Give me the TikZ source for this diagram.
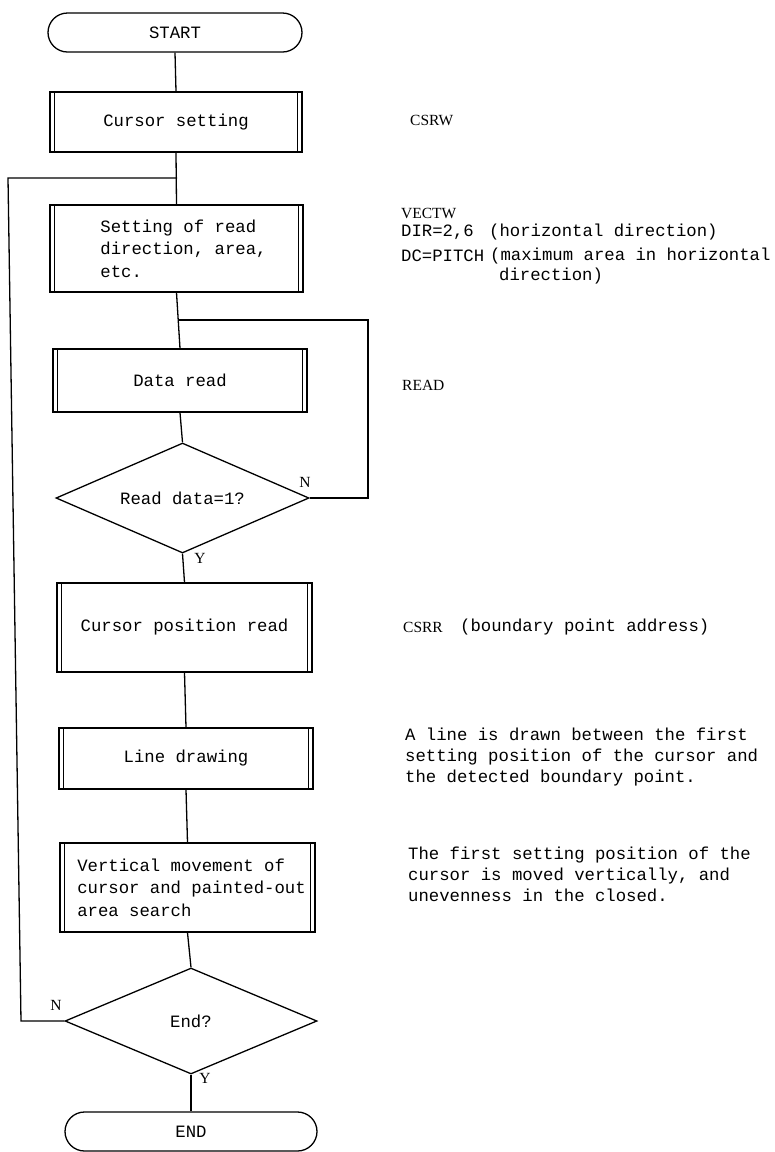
\documentclass[tikz,border=0pt]{standalone}
\usepackage{fontspec}
\newfontfamily\monof{Liberation Mono}
\newfontfamily\tmsf{Liberation Serif}
\usetikzlibrary{shapes.geometric}
\tikzset{
  ln/.style={line width=1.3pt},
  term/.style={draw, line width=1.3pt, rectangle, rounded corners=19.5pt, minimum width=254pt, minimum height=39pt, inner sep=0pt},
  proc/.style={draw, line width=1.3pt, rectangle, inner sep=0pt, align=left,
    path picture={
      \draw[line width=1pt] ([xshift=4.5pt]path picture bounding box.north west) -- ([xshift=4.5pt]path picture bounding box.south west);
      \draw[line width=1pt] ([xshift=-4.5pt]path picture bounding box.north east) -- ([xshift=-4.5pt]path picture bounding box.south east);
    }},
  dec/.style={draw, line width=1.3pt, diamond, inner sep=0pt, aspect=2.3},
  note/.style={anchor=west, inner sep=0pt, align=left, font=\monof\fontsize{17.3}{21}\selectfont},
  snote/.style={anchor=west, inner sep=0pt, font=\tmsf\fontsize{15.5}{17}\selectfont},
  yn/.style={inner sep=0pt, font=\tmsf\fontsize{15.5}{17}\selectfont},
}
\begin{document}
\begin{tikzpicture}[x=1pt, y=-1pt, font=\monof\fontsize{17.3}{22.5}\selectfont]
\useasboundingbox[fill=white] (0,0) rectangle (775,1152);

% flow nodes
\node[term] (start) at (175,32.5) {START};
\node[proc, minimum width=252pt, minimum height=60pt] (cs) at (176,122) {Cursor setting};
\node[proc, minimum width=253pt, minimum height=87pt] (set) at (176.5,248.5) {\hspace*{14pt}Setting of read\\\hspace*{14pt}direction, area,\\\hspace*{14pt}etc.};
\node[proc, minimum width=254pt, minimum height=63pt] (dr) at (180,380.5) {Data read};
\node[dec, minimum width=253pt, minimum height=110pt] (rd) at (182.5,498) {Read data=1?};
\node[proc, minimum width=255pt, minimum height=89pt] (cpr) at (184.5,627.5) {Cursor position read};
\node[proc, minimum width=254pt, minimum height=61pt] (ld) at (186,758.5) {Line drawing};
\node[proc, minimum width=255pt, minimum height=89pt] (vm) at (187.5,887.5) {\hspace*{8pt}Vertical movement of\\\hspace*{8pt}cursor and painted-out\\\hspace*{8pt}area search};
\node[dec, minimum width=252pt, minimum height=106pt] (ed) at (191,1021) {End?};
\node[term, minimum width=252pt] (endn) at (191,1131.5) {END};

% branch labels
\node[yn] (n1) at (305,482) {N};
\node[yn] (y1) at (200,558) {Y};
\node[yn] (n2) at (56,1005) {N};
\node[yn] (y2) at (205,1078) {Y};

% annotations
\node[snote] (csrw) at (410,120) {CSRW};
\node[snote] (vectw) at (401,213) {VECTW};
\node[note] (dir) at (401,232) {DIR=2,6};
\node[note] (dc) at (401,256) {DC=PITCH};
\node[note] (dirn) at (489,232) {(horizontal direction)};
\node[note] (dcn) at (490,256) {(maximum area in horizontal};
\node[note] (dcn2) at (499,276) {direction)};
\node[snote] (readn) at (402,385) {READ};
\node[snote] (csrr) at (403,627) {CSRR};
\node[note] (csrrn) at (460,627) {(boundary point address)};
\node[note] (ldn) at (405,757.5) {A line is drawn between the first\\setting position of the cursor and\\the detected boundary point.};
\node[note] (vmn) at (408,874) {The first setting position of the\\cursor is moved vertically, and\\unevenness in the closed.};

% junctions
\coordinate (j0) at (177,178);
\coordinate (j1) at (178.5,320);
\coordinate (rx) at (368,320);
\coordinate (lb) at (21,1021);
\coordinate (lt) at (8,178);

% connectors
\draw[ln] (start.south) -- (cs.north);
\draw[ln] (cs.south) -- (set.north);
\draw[ln] (set.south) -- (dr.north);
\draw[ln] (dr.south) -- (rd.north);
\draw[ln] (rd.south) -- (cpr.north);
\draw[ln] (cpr.south) -- (ld.north);
\draw[ln] (ld.south) -- (vm.north);
\draw[ln] (vm.south) -- (ed.north);
\draw[ln] (ed.south) -- (endn.north);
\draw[ln] (rd.east) -| (rx) -- (j1);
\draw[ln] (ed.west) -- (lb) -- (lt) -- (j0);
\end{tikzpicture}
\end{document}
